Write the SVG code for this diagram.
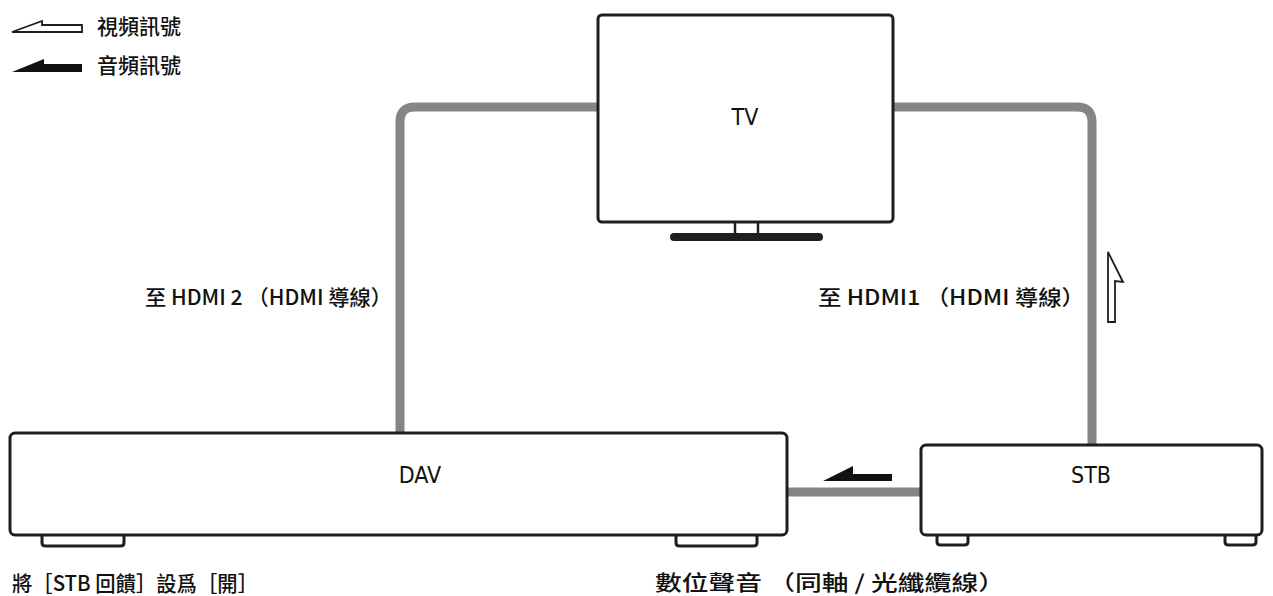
<svg xmlns="http://www.w3.org/2000/svg" width="1273" height="596" viewBox="0 0 1273 596">
<style>
.box{fill:#fff;stroke:#1e1e1e;stroke-width:3}
.foot{fill:#fff;stroke:#1e1e1e;stroke-width:3}
.cable{fill:none;stroke:#858585;stroke-width:9}
.cjk{font-family:"Noto Sans CJK TC","Noto Sans CJK SC",sans-serif;font-size:21px;font-weight:500;fill:#111}
.lbl{font-family:"Liberation Sans Narrow","DejaVu Sans Condensed","Liberation Sans",sans-serif;font-size:23px;fill:#111;text-anchor:middle}
.hollow{fill:#fff;stroke:#1e1e1e;stroke-width:1.8;stroke-linejoin:miter}
.solid{fill:#111;stroke:none}
</style>
<rect width="1273" height="596" fill="#fff"/>
<g id="legend">
<polygon class="hollow" points="12,32 42,21 42,25 82,25 82,32"/>
<text class="cjk" x="97" y="34">視頻訊號</text>
<polygon class="solid" points="12,72 44,59 44,64 82,64 82,72"/>
<text class="cjk" x="97" y="73">音頻訊號</text>
</g>
<g id="connectors">
<path class="cable" d="M598,107 H415 Q400,107 400,122 V433"/>
<path class="cable" d="M893,107 H1077 Q1092,107 1092,122 V445"/>
<path class="cable" d="M787,492 H921"/>
<polygon class="hollow" points="1108,252 1123,282 1115,281 1115,322 1108,322"/>
<polygon class="solid" points="823,481 853,466 853,474 892,474 892,481"/>
<text class="cjk" x="145" y="305" textLength="247" lengthAdjust="spacingAndGlyphs">至 HDMI 2 （HDMI 導線）</text>
<text class="cjk" x="818" y="305" textLength="267" lengthAdjust="spacingAndGlyphs">至 HDMI1 （HDMI 導線）</text>
<text class="cjk" x="655" y="590" textLength="350" lengthAdjust="spacingAndGlyphs">數位聲音 （同軸 / 光纖纜線）</text>
</g>
<g id="tv">
<rect class="box" x="598" y="15" width="295" height="207" rx="4"/>
<path d="M735,222 V235 M758,222 V235" stroke="#1e1e1e" stroke-width="2.5" fill="none"/>
<rect x="670" y="233" width="153" height="8" rx="4" fill="#1e1e1e"/>
<text class="lbl" x="745" y="125">TV</text>
</g>
<g id="dav">
<path class="foot" d="M42,535 V543 Q42,546 46,546 H120 Q124,546 124,543 V535"/>
<path class="foot" d="M676,535 V543 Q676,546 680,546 H753 Q757,546 757,543 V535"/>
<rect class="box" x="10" y="433" width="777" height="102" rx="5"/>
<text class="lbl" x="420" y="483">DAV</text>
</g>
<g id="stb">
<path class="foot" d="M937,535 V542 Q937,545 941,545 H964 Q968,545 968,542 V535"/>
<path class="foot" d="M1225,535 V542 Q1225,545 1229,545 H1252 Q1256,545 1256,542 V535"/>
<rect class="box" x="921" y="445" width="341" height="90" rx="5"/>
<text class="lbl" x="1091" y="483">STB</text>
</g>
<g id="note">
<text class="cjk" x="12" y="591" font-size="19" textLength="246" lengthAdjust="spacingAndGlyphs">將［STB 回饋］設爲［開］</text>
</g>
</svg>
